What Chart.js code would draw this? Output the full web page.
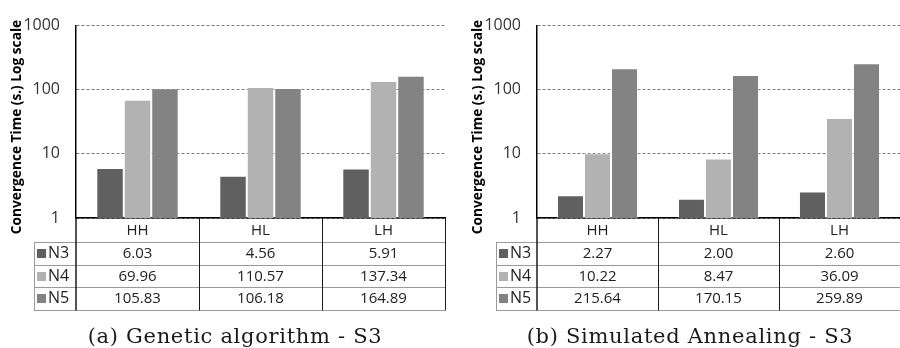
<!DOCTYPE html>
<html>
<head>
<meta charset="utf-8">
<script src="https://cdn.jsdelivr.net/npm/chart.js@4.4.1/dist/chart.umd.min.js"></script>
<style>
  body { margin: 0; background: #fff; }
  .panel { position: absolute; top: 0; width: 450px; height: 348px; }
  .caption { position: absolute; top: 325px; left: 0; text-align: center; font-family: "DejaVu Serif", serif; font-size: 21px; letter-spacing: 0.7px; line-height: 22px; color: #1a1a1a; }
</style>
</head>
<body>
<div class="panel" style="left:0px">
  <canvas id="gaChart" width="450" height="348"></canvas>
  <div class="caption" style="width:470px">(a) Genetic algorithm - S3</div>
</div>
<div class="panel" style="left:450px">
  <canvas id="saChart" width="450" height="348"></canvas>
  <div class="caption" style="width:480px">(b) Simulated Annealing - S3</div>
</div>
<script>
// data
const categories = ["HH", "HL", "LH"];
const seriesNames = ["N3", "N4", "N5"];
const seriesColors = ["#606060", "#b2b2b2", "#838383"];
const yTicks = [1, 10, 100, 1000];
const yTitle = "Convergence Time (s.) Log scale";

// genetic algorithm
const gaN3 = [6.03, 4.56, 5.91];
const gaN4 = [69.96, 110.57, 137.34];
const gaN5 = [105.83, 106.18, 164.89];

// simulated annealing
const saN3 = [2.27, 2.00, 2.60];
const saN4 = [10.22, 8.47, 36.09];
const saN5 = [215.64, 170.15, 259.89];

const sans = "'Open Sans', 'DejaVu Sans', sans-serif";

// data table under the plot + rotated y title
const tablePlugin = {
  id: "dataTable",
  afterDraw(chart, args, opts) {
    const ctx = chart.ctx;
    const xs = chart.scales.x;
    const area = chart.chartArea;
    const top = area.bottom;
    const headH = 24, rowH = 22.5;
    const rowsTop = top + headH;
    const bottom = rowsTop + rowH * seriesNames.length;
    const crisp = (v) => Math.round(v) + 0.5;

    // column edges
    const edges = [area.left];
    for (let i = 1; i < categories.length; i++) {
      edges.push((xs.getPixelForValue(i - 1) + xs.getPixelForValue(i)) / 2);
    }
    edges.push(area.right);

    ctx.save();
    ctx.lineWidth = 1;

    // row lines
    ctx.strokeStyle = "#9a9a9a";
    for (let k = 0; k <= seriesNames.length; k++) {
      const y = crisp(rowsTop + k * rowH);
      ctx.beginPath();
      ctx.moveTo(opts.legendLeft, y);
      ctx.lineTo(area.right, y);
      ctx.stroke();
    }
    ctx.beginPath();
    ctx.moveTo(crisp(opts.legendLeft), rowsTop);
    ctx.lineTo(crisp(opts.legendLeft), crisp(bottom));
    ctx.stroke();

    // column lines
    ctx.strokeStyle = "#1a1a1a";
    edges.forEach((x, i) => {
      ctx.lineWidth = i === 0 ? 1.5 : 1;
      ctx.beginPath();
      ctx.moveTo(i === 0 ? x : crisp(x), top);
      ctx.lineTo(i === 0 ? x : crisp(x), crisp(bottom));
      ctx.stroke();
    });

    // legend keys and values
    ctx.textBaseline = "middle";
    opts.series.forEach((vals, r) => {
      const cy = rowsTop + rowH * r + rowH / 2 + 0.5;
      ctx.fillStyle = seriesColors[r];
      ctx.fillRect(opts.legendLeft + 3, Math.round(cy - 4.5), 9, 9);
      ctx.fillStyle = "#222";
      ctx.textAlign = "left";
      ctx.font = "16px " + sans;
      ctx.fillText(seriesNames[r], opts.legendLeft + 14, cy);
      ctx.font = "15px " + sans;
      ctx.textAlign = "center";
      vals.forEach((v, c) => {
        ctx.fillText(v.toFixed(2), xs.getPixelForValue(c), cy);
      });
    });

    // y axis title
    ctx.translate(opts.titleX, opts.titleY);
    ctx.rotate(-Math.PI / 2);
    ctx.font = "bold 13.7px " + sans;
    ctx.fillStyle = "#000";
    ctx.textAlign = "center";
    ctx.fillText(yTitle, 0, 0);
    ctx.restore();
  }
};

function makeChart(id, series, geo) {
  return new Chart(document.getElementById(id), {
    type: "bar",
    data: {
      labels: categories,
      datasets: series.map((vals, i) => ({
        label: seriesNames[i],
        data: vals,
        backgroundColor: seriesColors[i],
        borderColor: "rgba(255,255,255,0.4)",
        borderWidth: 1,
        categoryPercentage: 0.67,
        barPercentage: 1.0
      }))
    },
    options: {
      responsive: false,
      animation: false,
      layout: { padding: { top: 18, bottom: 106, left: 0, right: geo.right } },
      plugins: {
        legend: { display: false },
        tooltip: { enabled: false },
        dataTable: { series: series, legendLeft: geo.legendLeft, titleX: geo.titleX, titleY: 127 }
      },
      scales: {
        x: {
          offset: true,
          grid: { display: false, drawTicks: false },
          border: { display: true, color: "#000", width: 1.5 },
          ticks: { font: { family: sans, size: 15 }, color: "#222", padding: 4 },
          afterFit: (s) => { s.height = 24; }
        },
        y: {
          type: "logarithmic",
          min: 1,
          max: 1000,
          afterBuildTicks: (s) => { s.ticks = yTicks.map(v => ({ value: v })); },
          afterFit: (s) => { s.width = geo.left; },
          ticks: {
            font: { family: sans, size: 16 },
            color: "#333",
            padding: 16,
            callback: (v) => String(v)
          },
          grid: { color: "#7a7a7a", lineWidth: 1, drawTicks: false },
          border: { display: true, color: "#000", width: 1.5, dash: [3, 2] }
        }
      }
    },
    plugins: [tablePlugin]
  });
}

makeChart("gaChart", [gaN3, gaN4, gaN5], { left: 76, right: 5, legendLeft: 34, titleX: 17 });
makeChart("saChart", [saN3, saN4, saN5], { left: 87, right: 0, legendLeft: 46, titleX: 28 });
</script>
</body>
</html>
